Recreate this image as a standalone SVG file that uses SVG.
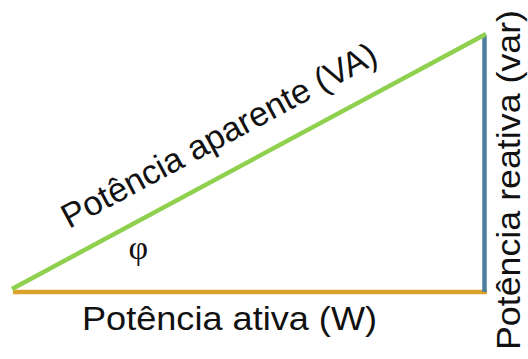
<svg xmlns="http://www.w3.org/2000/svg" width="528" height="359" viewBox="0 0 528 359">
<style>
.lbl{font-family:"Liberation Sans","Arial",sans-serif;font-size:34px;fill:#111}
.phi{font-family:"Liberation Serif","Times New Roman",serif;font-size:34px;fill:#111}
.edge{stroke-width:4.5;fill:none}
</style>
<rect width="528" height="359" fill="#ffffff"/>
<g id="connectors">
<line id="ativa" class="edge" x1="13" y1="292" x2="487" y2="292" stroke="#D9A22B"/>
<line id="reativa" class="edge" x1="484.5" y1="35" x2="484.5" y2="292" stroke="#4F7F9F"/>
<line id="aparente" class="edge" x1="12" y1="289" x2="486" y2="34" stroke="#8FD14F"/>
</g>
<g id="label-aparente">
<text class="lbl" transform="translate(69,229) rotate(-28.27)" textLength="353" lengthAdjust="spacingAndGlyphs">Potência aparente (VA)</text>
</g>
<g id="label-phi">
<text class="phi" x="138.3" y="259" text-anchor="middle">φ</text>
</g>
<g id="label-ativa">
<text class="lbl" x="82" y="330" textLength="295" lengthAdjust="spacingAndGlyphs">Potência ativa (W)</text>
</g>
<g id="label-reativa">
<text class="lbl" transform="translate(520,350) rotate(-90)" textLength="340" lengthAdjust="spacingAndGlyphs">Potência reativa (var)</text>
</g>
</svg>
